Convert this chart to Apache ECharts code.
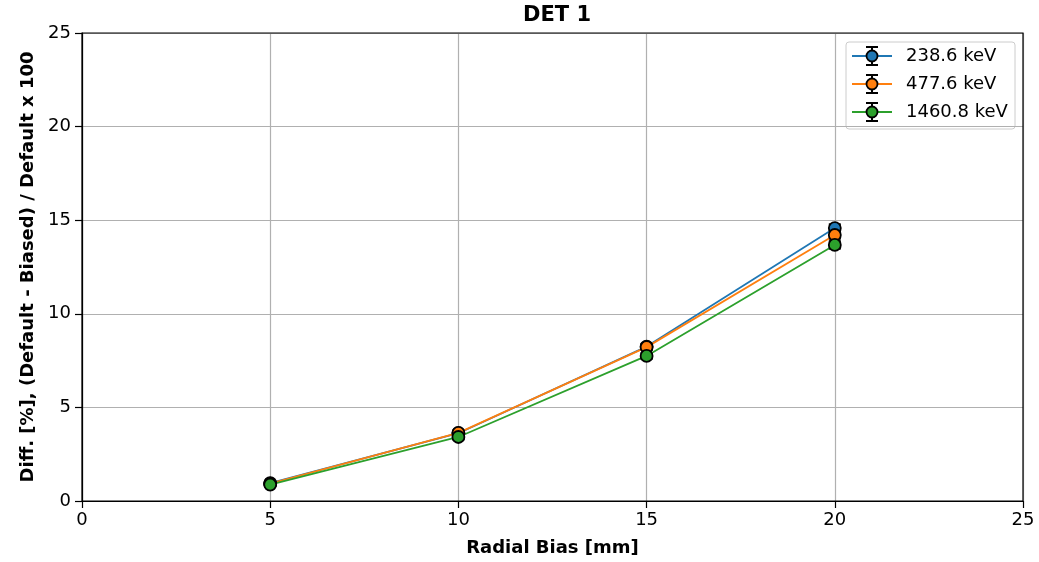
<!DOCTYPE html>
<html><head><meta charset="utf-8">
<script src="https://cdn.jsdelivr.net/npm/echarts@6/dist/echarts.min.js"></script>
<style>html,body{margin:0;padding:0;background:#fff}#c{width:1039px;height:562px}</style>
</head><body><div id="c"></div>
<script>
const xValues = [5, 10, 15, 20];
const seriesNames = ['238.6 keV', '477.6 keV', '1460.8 keV'];
const colors = ['#1f77b4', '#ff7f0e', '#2ca02c'];
const vals238 = [0.95, 3.62, 8.25, 14.58];
const vals477 = [0.93, 3.64, 8.22, 14.21];
const vals1460 = [0.88, 3.42, 7.75, 13.68];
const err238 = [0.08, 0.12, 0.15, 0.2];
const err477 = [0.08, 0.12, 0.15, 0.2];
const err1460 = [0.08, 0.12, 0.15, 0.2];
const xTicks = [0, 5, 10, 15, 20, 25];
const yTicks = [0, 5, 10, 15, 20, 25];

const allVals = [vals238, vals477, vals1460];
const allErr = [err238, err477, err1460];
const FONT = 'DejaVu Sans';

const chart = echarts.init(document.getElementById('c'));
const series = [];
allVals.forEach((vals, i) => {
  series.push({
    type: 'custom', name: seriesNames[i] + ' err', z: 3,
    renderItem: function (params, api) {
      const x = api.value(0), y = api.value(1), e = api.value(2);
      const top = api.coord([x, y + e]);
      const bot = api.coord([x, y - e]);
      const hw = 6;
      const st = { stroke: '#000', lineWidth: 2 };
      return { type: 'group', children: [
        { type: 'line', shape: { x1: top[0], y1: top[1], x2: bot[0], y2: bot[1] }, style: st },
        { type: 'line', shape: { x1: top[0] - hw, y1: top[1], x2: top[0] + hw, y2: top[1] }, style: st },
        { type: 'line', shape: { x1: bot[0] - hw, y1: bot[1], x2: bot[0] + hw, y2: bot[1] }, style: st }
      ]};
    },
    data: xValues.map((x, j) => [x, vals[j], allErr[i][j]])
  });
  series.push({
    type: 'line', name: seriesNames[i], z: 4,
    data: xValues.map((x, j) => [x, vals[j]]),
    symbol: 'circle', symbolSize: 12,
    lineStyle: { color: colors[i], width: 1.8 },
    itemStyle: { color: colors[i], borderColor: '#000', borderWidth: 1.8 },
    emphasis: { disabled: true }, animation: false
  });
});

// legend built from graphic elements
const lgX = 846, lgY = 42, lgRow = 28;
const lgChildren = [{ type: 'rect', shape: { x: 0, y: 0, width: 169, height: 87, r: 3 }, style: { fill: 'rgba(255,255,255,0.8)', stroke: '#cccccc', lineWidth: 1 } }];
seriesNames.forEach((n, i) => {
  const cy = 14 + i * lgRow;
  lgChildren.push(
    { type: 'line', shape: { x1: 6, y1: cy, x2: 46, y2: cy }, style: { stroke: colors[i], lineWidth: 1.8 } },
    { type: 'line', shape: { x1: 26, y1: cy - 9, x2: 26, y2: cy + 9 }, style: { stroke: '#000', lineWidth: 2 } },
    { type: 'line', shape: { x1: 20, y1: cy - 9, x2: 32, y2: cy - 9 }, style: { stroke: '#000', lineWidth: 2 } },
    { type: 'line', shape: { x1: 20, y1: cy + 9, x2: 32, y2: cy + 9 }, style: { stroke: '#000', lineWidth: 2 } },
    { type: 'circle', shape: { cx: 26, cy: cy, r: 5.5 }, style: { fill: colors[i], stroke: '#000', lineWidth: 1.8 } },
    { type: 'text', style: { x: 60, y: cy, text: n, font: '18px ' + FONT, fill: '#000', textVerticalAlign: 'middle', verticalAlign: 'middle' } }
  );
});

chart.setOption({
  animation: false,
  textStyle: { fontFamily: FONT },
  title: { text: 'DET 1', left: 552, textAlign: 'center', top: 0, textStyle: { fontFamily: FONT, fontWeight: 'bold', fontSize: 21, color: '#000' } },
  grid: { left: 82, right: 16, top: 33, bottom: 61, containLabel: false, outerBoundsMode: 'none' },
  xAxis: {
    type: 'value', min: 0, max: 25, interval: 5,
    name: 'Radial Bias [mm]', nameLocation: 'middle', nameGap: 38,
    nameTextStyle: { fontFamily: FONT, fontWeight: 'bold', fontSize: 18, color: '#000' },
    axisLine: { show: true, onZero: false, lineStyle: { color: '#000', width: 1.2 } },
    axisTick: { show: true, length: 7, lineStyle: { color: '#000', width: 1.2 } },
    axisLabel: { fontSize: 18, color: '#000', margin: 10, fontFamily: FONT },
    splitLine: { show: true, lineStyle: { color: '#b0b0b0', width: 1.2 } }
  },
  yAxis: {
    type: 'value', min: 0, max: 25, interval: 5,
    name: 'Diff. [%], (Default - Biased) / Default x 100', nameLocation: 'middle', nameGap: 43, nameRotate: 90,
    nameTextStyle: { fontFamily: FONT, fontWeight: 'bold', fontSize: 18, color: '#000' },
    axisLine: { show: true, lineStyle: { color: '#000', width: 1.2 } },
    axisTick: { show: true, length: 7, lineStyle: { color: '#000', width: 1.2 } },
    axisLabel: { fontSize: 18, color: '#000', margin: 11, fontFamily: FONT },
    splitLine: { show: true, lineStyle: { color: '#b0b0b0', width: 1.2 } }
  },
  graphic: [
    { type: 'rect', shape: { x: 82, y: 33, width: 941, height: 468 }, style: { fill: 'none', stroke: '#000', lineWidth: 1.2 }, z: 10, silent: true },
    { type: 'group', x: lgX, y: lgY, z: 20, children: lgChildren }
  ],
  series: series
});
</script></body></html>
